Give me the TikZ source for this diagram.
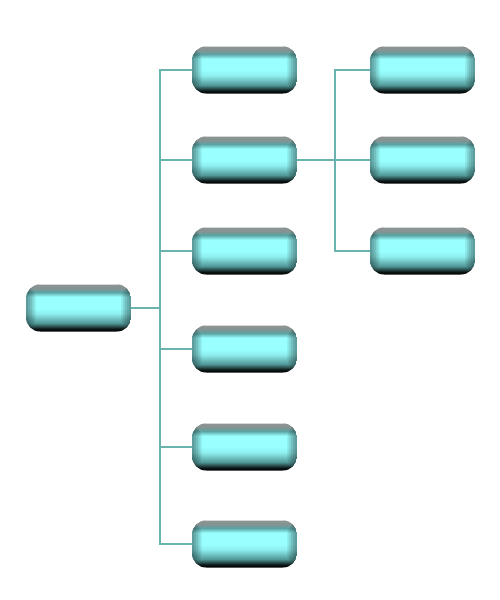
\documentclass[tikz,border=0pt]{standalone}
\usepackage{tikz}
\definecolor{linkteal}{HTML}{6AB4B0}
\definecolor{boxcyan}{HTML}{99FFFF}
\definecolor{boxtop}{HTML}{8E9494}
\definecolor{boxdark}{HTML}{4A8C8C}
% glossy fill of the boxes, bottom (25bp) to top (75bp)
\pgfdeclareverticalshading{glossy}{100bp}{%
  color(0bp)=(black); color(25bp)=(black);
  color(28bp)=(black!85!boxdark); color(34bp)=(boxdark!90!boxcyan);
  color(44bp)=(boxcyan!85!boxdark); color(50bp)=(boxcyan);
  color(62bp)=(boxcyan); color(67bp)=(boxdark!80!boxcyan);
  color(71bp)=(boxtop!85!boxdark); color(75bp)=(boxtop);
  color(100bp)=(boxtop)}

\begin{document}
\begin{tikzpicture}[x=0.02cm,y=-0.02cm,
  module/.style={rounded corners=8pt,shading=glossy,
    minimum width=2.1cm,minimum height=0.94cm,inner sep=0pt,
    path picture={
      \foreach \w in {1,...,5}{
        \fill[black,opacity=.09]
          (path picture bounding box.south west) rectangle
          ([xshift=1.1*\w pt]path picture bounding box.north west);
        \fill[black,opacity=.09]
          ([xshift=-1.1*\w pt]path picture bounding box.south east) rectangle
          (path picture bounding box.north east);}}},
  link/.style={draw=linkteal,line width=0.6pt}
]
\useasboundingbox (0,0) rectangle (500,600);

\node[module] (root) at (78.5,308) {};
\node[module] (c1) at (244.5,70) {};
\node[module] (c2) at (244.5,160) {};
\node[module] (c3) at (244.5,251) {};
\node[module] (c4) at (244.5,349) {};
\node[module] (c5) at (244.5,447) {};
\node[module] (c6) at (244.5,544) {};
\node[module] (g1) at (422.5,70) {};
\node[module] (g2) at (422.5,160) {};
\node[module] (g3) at (422.5,251) {};

\coordinate (trunk) at (160,308);
\coordinate (trunk2) at (335,160);
\draw[link] (root.east) -- (trunk);
\foreach \c in {c1,c2,c3,c4,c5,c6}
  \draw[link] (trunk) |- (\c.west);
\draw[link] (c2.east) -- (trunk2);
\foreach \g in {g1,g2,g3}
  \draw[link] (trunk2) |- (\g.west);
\end{tikzpicture}
\end{document}
